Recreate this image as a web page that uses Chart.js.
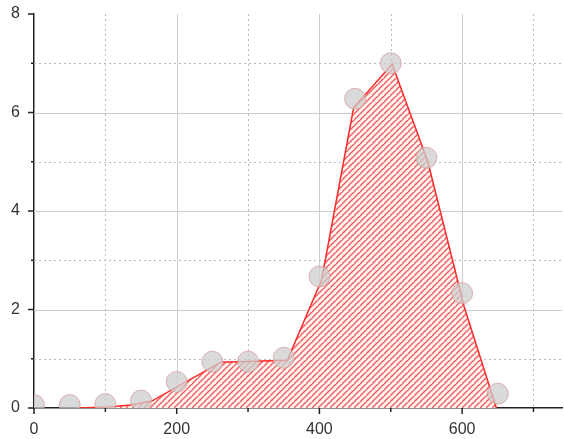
<!DOCTYPE html>
<html>
<head>
<meta charset="utf-8">
<script src="https://cdn.jsdelivr.net/npm/chart.js@4/dist/chart.umd.min.js"></script>
<style>
  html, body { margin: 0; padding: 0; background: #ffffff; overflow: hidden; }
  canvas { display: block; }
</style>
</head>
<body>
<canvas id="c" width="564" height="439" style="width:564px;height:439px"></canvas>
<script>
// Measured sample points (grey circles)
const pointX = [0, 50, 100, 150, 200, 250, 300, 350, 400, 450, 500, 550, 600, 650];
const pointY = [0.06, 0.06, 0.08, 0.15, 0.53, 0.94, 0.94, 1.02, 2.67, 6.28, 7.0, 5.08, 2.33, 0.29];

// Red outline of the hatched area
const lineX = [60, 105, 135, 165, 262, 355, 403, 448, 502, 552, 603, 648];
const lineY = [0, 0.02, 0.06, 0.14, 0.93, 0.97, 2.6, 6.1, 6.98, 5.0, 2.05, 0];

// Axis ticks
const xMajorTicks = [0, 200, 400, 600];
const xMinorTicks = [100, 300, 500, 700];
const yMajorTicks = [0, 2, 4, 6, 8];
const yMinorTicks = [1, 3, 5, 7];

const pointData = pointX.map((x, i) => ({ x: x, y: pointY[i] }));
const lineData = lineX.map((x, i) => ({ x: x, y: lineY[i] }));

function makeHatch() {
  const s = 6;
  const c = document.createElement('canvas');
  c.width = s; c.height = s;
  const g = c.getContext('2d');
  g.fillStyle = '#fff5ec';
  g.fillRect(0, 0, s, s);
  g.strokeStyle = '#ee5a66';
  g.lineWidth = 1.4;
  g.beginPath();
  g.moveTo(-1, s + 1); g.lineTo(s + 1, -1);
  g.moveTo(-1 - s, s + 1); g.lineTo(1, -1);
  g.moveTo(s - 1, 2 * s + 1); g.lineTo(2 * s + 1, s - 1);
  g.stroke();
  return g.createPattern(c, 'repeat');
}

function zeroPad(s) {
  s.paddingTop = 0; s.paddingBottom = 0; s.paddingLeft = 0; s.paddingRight = 0;
}

const gridPlugin = {
  id: 'customGrid',
  beforeDatasetsDraw(chart) {
    const { ctx, chartArea: a, scales: { x, y } } = chart;
    ctx.save();
    ctx.lineWidth = 1;
    ctx.strokeStyle = '#cdcdcd';
    ctx.setLineDash([]);
    xMajorTicks.forEach(v => {
      if (v === 0) return;
      const px = Math.round(x.getPixelForValue(v)) + 0.5;
      ctx.beginPath(); ctx.moveTo(px, a.top); ctx.lineTo(px, a.bottom); ctx.stroke();
    });
    yMajorTicks.forEach(v => {
      if (v === 0 || v === 8) return;
      const py = Math.round(y.getPixelForValue(v)) + 0.5;
      ctx.beginPath(); ctx.moveTo(a.left, py); ctx.lineTo(a.right, py); ctx.stroke();
    });
    ctx.strokeStyle = '#b8b8b8';
    ctx.setLineDash([2, 3]);
    xMinorTicks.forEach(v => {
      const px = Math.round(x.getPixelForValue(v)) + 0.5;
      ctx.beginPath(); ctx.moveTo(px, a.top); ctx.lineTo(px, a.bottom); ctx.stroke();
    });
    yMinorTicks.forEach(v => {
      const py = Math.round(y.getPixelForValue(v)) + 0.5;
      ctx.beginPath(); ctx.moveTo(a.left, py); ctx.lineTo(a.right, py); ctx.stroke();
    });
    ctx.restore();
  },
  afterDraw(chart) {
    const { ctx, chartArea: a, scales: { x, y } } = chart;
    ctx.save();
    ctx.strokeStyle = '#222';
    ctx.lineWidth = 1.5;
    ctx.setLineDash([]);
    yMajorTicks.forEach(v => {
      const py = y.getPixelForValue(v);
      ctx.beginPath(); ctx.moveTo(a.left - 6, py); ctx.lineTo(a.left, py); ctx.stroke();
    });
    yMinorTicks.forEach(v => {
      const py = y.getPixelForValue(v);
      ctx.beginPath(); ctx.moveTo(a.left - 3, py); ctx.lineTo(a.left, py); ctx.stroke();
    });
    xMajorTicks.forEach(v => {
      const px = x.getPixelForValue(v);
      ctx.beginPath(); ctx.moveTo(px, a.bottom); ctx.lineTo(px, a.bottom + 6); ctx.stroke();
    });
    xMinorTicks.forEach(v => {
      const px = x.getPixelForValue(v);
      ctx.beginPath(); ctx.moveTo(px, a.bottom); ctx.lineTo(px, a.bottom + 4); ctx.stroke();
    });
    ctx.restore();
  }
};

new Chart(document.getElementById('c'), {
  type: 'scatter',
  data: {
    datasets: [
      {
        data: pointData,
        showLine: false,
        pointRadius: 10.5,
        pointBackgroundColor: 'rgba(205,205,205,0.75)',
        pointBorderColor: 'rgba(215,150,150,0.7)',
        pointBorderWidth: 1,
        clip: 0,
        order: 0
      },
      {
        data: lineData,
        showLine: true,
        pointRadius: 0,
        borderColor: '#ff2a2a',
        borderWidth: 1.5,
        fill: 'origin',
        backgroundColor: makeHatch(),
        tension: 0,
        clip: 0,
        order: 1
      }
    ]
  },
  options: {
    responsive: false,
    animation: false,
    devicePixelRatio: 1,
    layout: { autoPadding: false, padding: { top: 14, right: 2, left: 0, bottom: 0 } },
    plugins: { legend: { display: false }, tooltip: { enabled: false } },
    scales: {
      x: {
        type: 'linear',
        min: 0, max: 740,
        grid: { display: false, drawTicks: false, tickLength: 0 },
        border: { display: true, color: '#222', width: 1.5 },
        afterFit(s) { s.height = 31; zeroPad(s); },
        afterBuildTicks(s) { s.ticks = xMajorTicks.map(v => ({ value: v })); },
        ticks: {
          padding: 12,
          color: '#333',
          font: { family: 'Liberation Sans, Arial, sans-serif', size: 16 },
          maxRotation: 0,
          autoSkip: false
        }
      },
      y: {
        type: 'linear',
        min: 0, max: 8,
        grid: { display: false, drawTicks: false, tickLength: 0 },
        border: { display: true, color: '#222', width: 1.5 },
        afterFit(s) { s.width = 34; zeroPad(s); },
        afterBuildTicks(s) { s.ticks = yMajorTicks.map(v => ({ value: v })); },
        ticks: {
          padding: 14,
          color: '#333',
          font: { family: 'Liberation Sans, Arial, sans-serif', size: 16 }
        }
      }
    }
  },
  plugins: [gridPlugin]
});
</script>
</body>
</html>
